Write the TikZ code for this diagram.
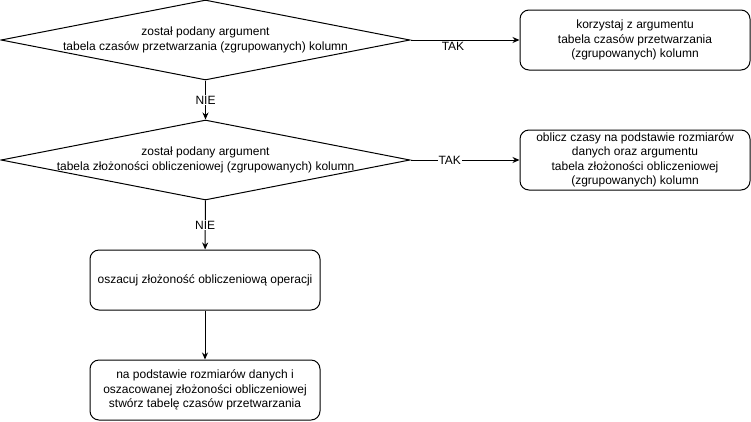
\documentclass[tikz,border=0pt]{standalone}
\usepackage{fontspec}
\setmainfont{Liberation Sans}
\usetikzlibrary{shapes.geometric,arrows.meta}
\tikzset{
  decision/.style={diamond, draw, line width=1pt, inner sep=0pt, minimum width=409pt, minimum height=80pt},
  process/.style={draw, line width=1pt, rounded corners=9pt, minimum width=230pt, minimum height=60pt, align=center, inner sep=0pt},
  flow/.style={-{Stealth[length=7pt,width=6pt]}, line width=1pt},
  answer/.style={fill=white, inner sep=1pt},
}
\begin{document}
\begin{tikzpicture}[x=1pt, y=-1pt, font=\fontsize{12}{14.4}\selectfont]
\useasboundingbox (0,0) rectangle (751,421);
\node[decision, label={[align=center]center:został podany argument\\tabela czasów przetwarzania (zgrupowanych) kolumn}] (timeq) at (205.5,40) {};
\node[decision, label={[align=center]center:został podany argument\\tabela złożoności obliczeniowej (zgrupowanych) kolumn}] (sizeq) at (205.5,160) {};
\node[process] (usetime) at (635,40) {korzystaj z argumentu\\tabela czasów przetwarzania\\(zgrupowanych) kolumn};
\node[process] (calctime) at (635,160) {oblicz czasy na podstawie rozmiarów\\danych oraz argumentu\\tabela złożoności obliczeniowej\\(zgrupowanych) kolumn};
\node[process] (estimate) at (205,280) {oszacuj złożoność obliczeniową operacji};
\node[process] (build) at (205,390) {na podstawie rozmiarów danych i\\oszacowanej złożoności obliczeniowej\\stwórz tabelę czasów przetwarzania};
\draw[flow] (timeq) -- node[answer]{NIE} (sizeq);
\draw[flow] (timeq.east) -- node[answer, pos=0.39, yshift=-6pt]{TAK} (usetime);
\draw[flow] (sizeq.east) -- node[answer, pos=0.36]{TAK} (calctime);
\draw[flow] (sizeq) -- node[answer]{NIE} (estimate);
\draw[flow] (estimate) -- (build);
\end{tikzpicture}
\end{document}
